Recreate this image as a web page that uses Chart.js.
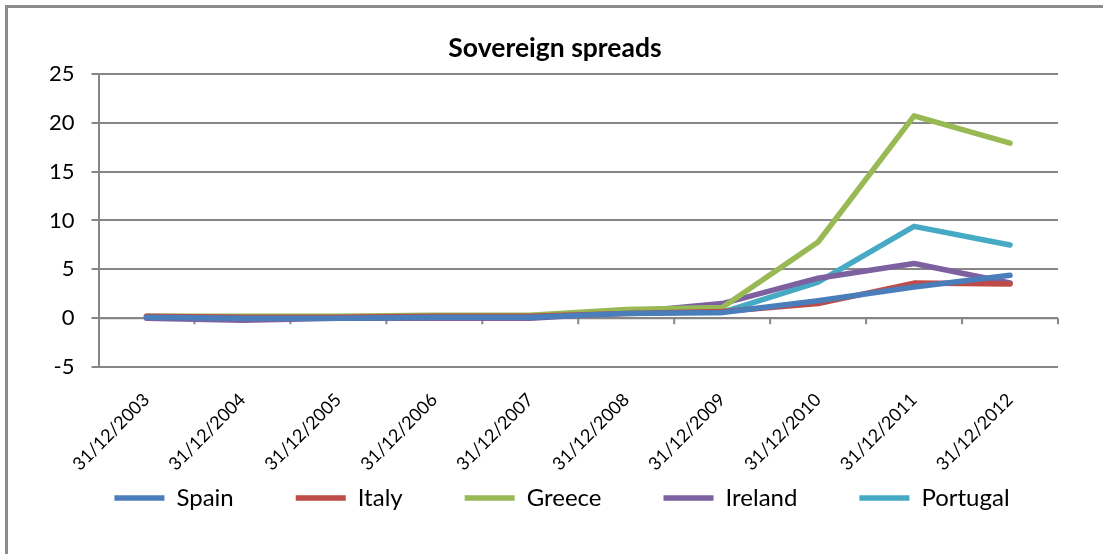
<!DOCTYPE html>
<html>
<head>
<meta charset="utf-8">
<script src="https://cdn.jsdelivr.net/npm/chart.js@4/dist/chart.umd.min.js"></script>
<style>
  html, body { margin: 0; padding: 0; background: #fff; }
  #wrap { position: relative; width: 1103px; height: 554px; }
  #frame { position: absolute; left: 5px; top: 5px; right: 0; bottom: 0;
           border-left: 3px solid #8c8c8c; border-top: 3px solid #8c8c8c; pointer-events: none; }
  canvas { position: absolute; left: 0; top: 0; }
</style>
</head>
<body>
<div id="wrap">
  <canvas id="myChart" width="1103" height="554"></canvas>
  <div id="frame"></div>
</div>
<script>
// categories
var dates = ['31/12/2003', '31/12/2004', '31/12/2005', '31/12/2006', '31/12/2007',
             '31/12/2008', '31/12/2009', '31/12/2010', '31/12/2011', '31/12/2012'];

// series values
var spain    = [0.1, 0.0, 0.0, 0.1, 0.1, 0.5, 0.6, 1.8, 3.2, 4.4];
var italy    = [0.2, 0.1, 0.1, 0.2, 0.2, 0.5, 0.7, 1.5, 3.6, 3.5];
var greece   = [0.2, 0.2, 0.2, 0.3, 0.3, 0.9, 1.1, 7.8, 20.7, 17.9];
var ireland  = [0.0, -0.2, 0.0, 0.0, 0.0, 0.6, 1.5, 4.1, 5.6, 3.6];
var portugal = [0.1, 0.1, 0.1, 0.2, 0.2, 0.6, 0.6, 3.7, 9.4, 7.5];

// y axis
var yMin = -5;
var yMax = 25;
var yStep = 5;

var gridColor = '#868686';
var legendRowY = 498;   // centre line of the legend row
var legendShift = 17;   // nudge the legend row to the right
var titleShift = 10;    // and the title a bit too

// x axis line sits on zero, with tick marks between categories
var zeroAxisPlugin = {
    id: 'zeroAxis',
    beforeDatasetsDraw: function (chart) {
        var ctx = chart.ctx;
        var x = chart.scales.x;
        var y = chart.scales.y;
        var y0 = y.getPixelForValue(0);
        ctx.save();
        ctx.strokeStyle = gridColor;
        ctx.lineWidth = 2;
        ctx.beginPath();
        ctx.moveTo(x.left, y0);
        ctx.lineTo(x.right, y0);
        for (var i = 1; i <= dates.length; i++) {
            var px = i < dates.length
                ? (x.getPixelForValue(i - 1) + x.getPixelForValue(i)) / 2
                : x.right;
            ctx.moveTo(px, y0);
            ctx.lineTo(px, y0 + 6);
        }
        ctx.stroke();
        ctx.restore();
    }
};

// wide gaps between legend items, without the legend eating the plot height
var legendPlacePlugin = {
    id: 'legendPlace',
    afterLayout: function (chart) {
        var lg = chart.legend;
        var lab = lg.options.labels;
        lg.top = legendRowY - lab.padding - lab.font.size / 2;
        lg.bottom = chart.height;
        lg.left += legendShift;
        lg.right += legendShift;
        chart.titleBlock.left += titleShift;
        chart.titleBlock.right += titleShift;
    }
};

function makeSet(label, data, color) {
    return {
        label: label,
        data: data,
        borderColor: color,
        backgroundColor: color,
        borderWidth: 5.5,
        pointRadius: 0,
        pointStyle: 'line',
        tension: 0,
        borderCapStyle: 'round',
        borderJoinStyle: 'round'
    };
}

document.addEventListener('DOMContentLoaded', function () {
    var ctx = document.getElementById('myChart').getContext('2d');
    new Chart(ctx, {
        type: 'line',
        data: {
            labels: dates,
            datasets: [
                makeSet('Spain', spain, '#4a7ebb'),
                makeSet('Italy', italy, '#be4b48'),
                makeSet('Greece', greece, '#98b954'),
                makeSet('Ireland', ireland, '#7d60a0'),
                makeSet('Portugal', portugal, '#46aac5')
            ]
        },
        options: {
            responsive: false,
            animation: false,
            layout: {
                padding: { left: 32, right: 45, top: 33, bottom: 56 }
            },
            scales: {
                x: {
                    offset: true,
                    grid: { display: false, drawTicks: false },
                    border: { display: false },
                    ticks: {
                        color: '#000',
                        maxRotation: 45,
                        minRotation: 45,
                        padding: 22,
                        font: { family: 'Lato', size: 18 }
                    },
                    afterFit: function (scale) {
                        scale.paddingLeft = 0;
                        scale.paddingRight = 0;
                    }
                },
                y: {
                    min: yMin,
                    max: yMax,
                    grid: { color: gridColor, lineWidth: 2, tickLength: 7 },
                    border: { color: gridColor, width: 2 },
                    ticks: {
                        stepSize: yStep,
                        color: '#000',
                        padding: 17,
                        font: { family: 'Lato', size: 22 }
                    }
                }
            },
            plugins: {
                title: {
                    display: true,
                    text: 'Sovereign spreads',
                    color: '#000',
                    font: { family: 'Lato', size: 26.5, weight: 'bold' },
                    padding: { top: 0, bottom: 9 }
                },
                legend: {
                    position: 'bottom',
                    maxHeight: 1,
                    labels: {
                        color: '#000',
                        usePointStyle: true,
                        pointStyleWidth: 50,
                        padding: 62,
                        font: { family: 'Lato', size: 24 }
                    }
                },
                tooltip: { enabled: false }
            }
        },
        plugins: [zeroAxisPlugin, legendPlacePlugin]
    });
});
</script>
</body>
</html>
